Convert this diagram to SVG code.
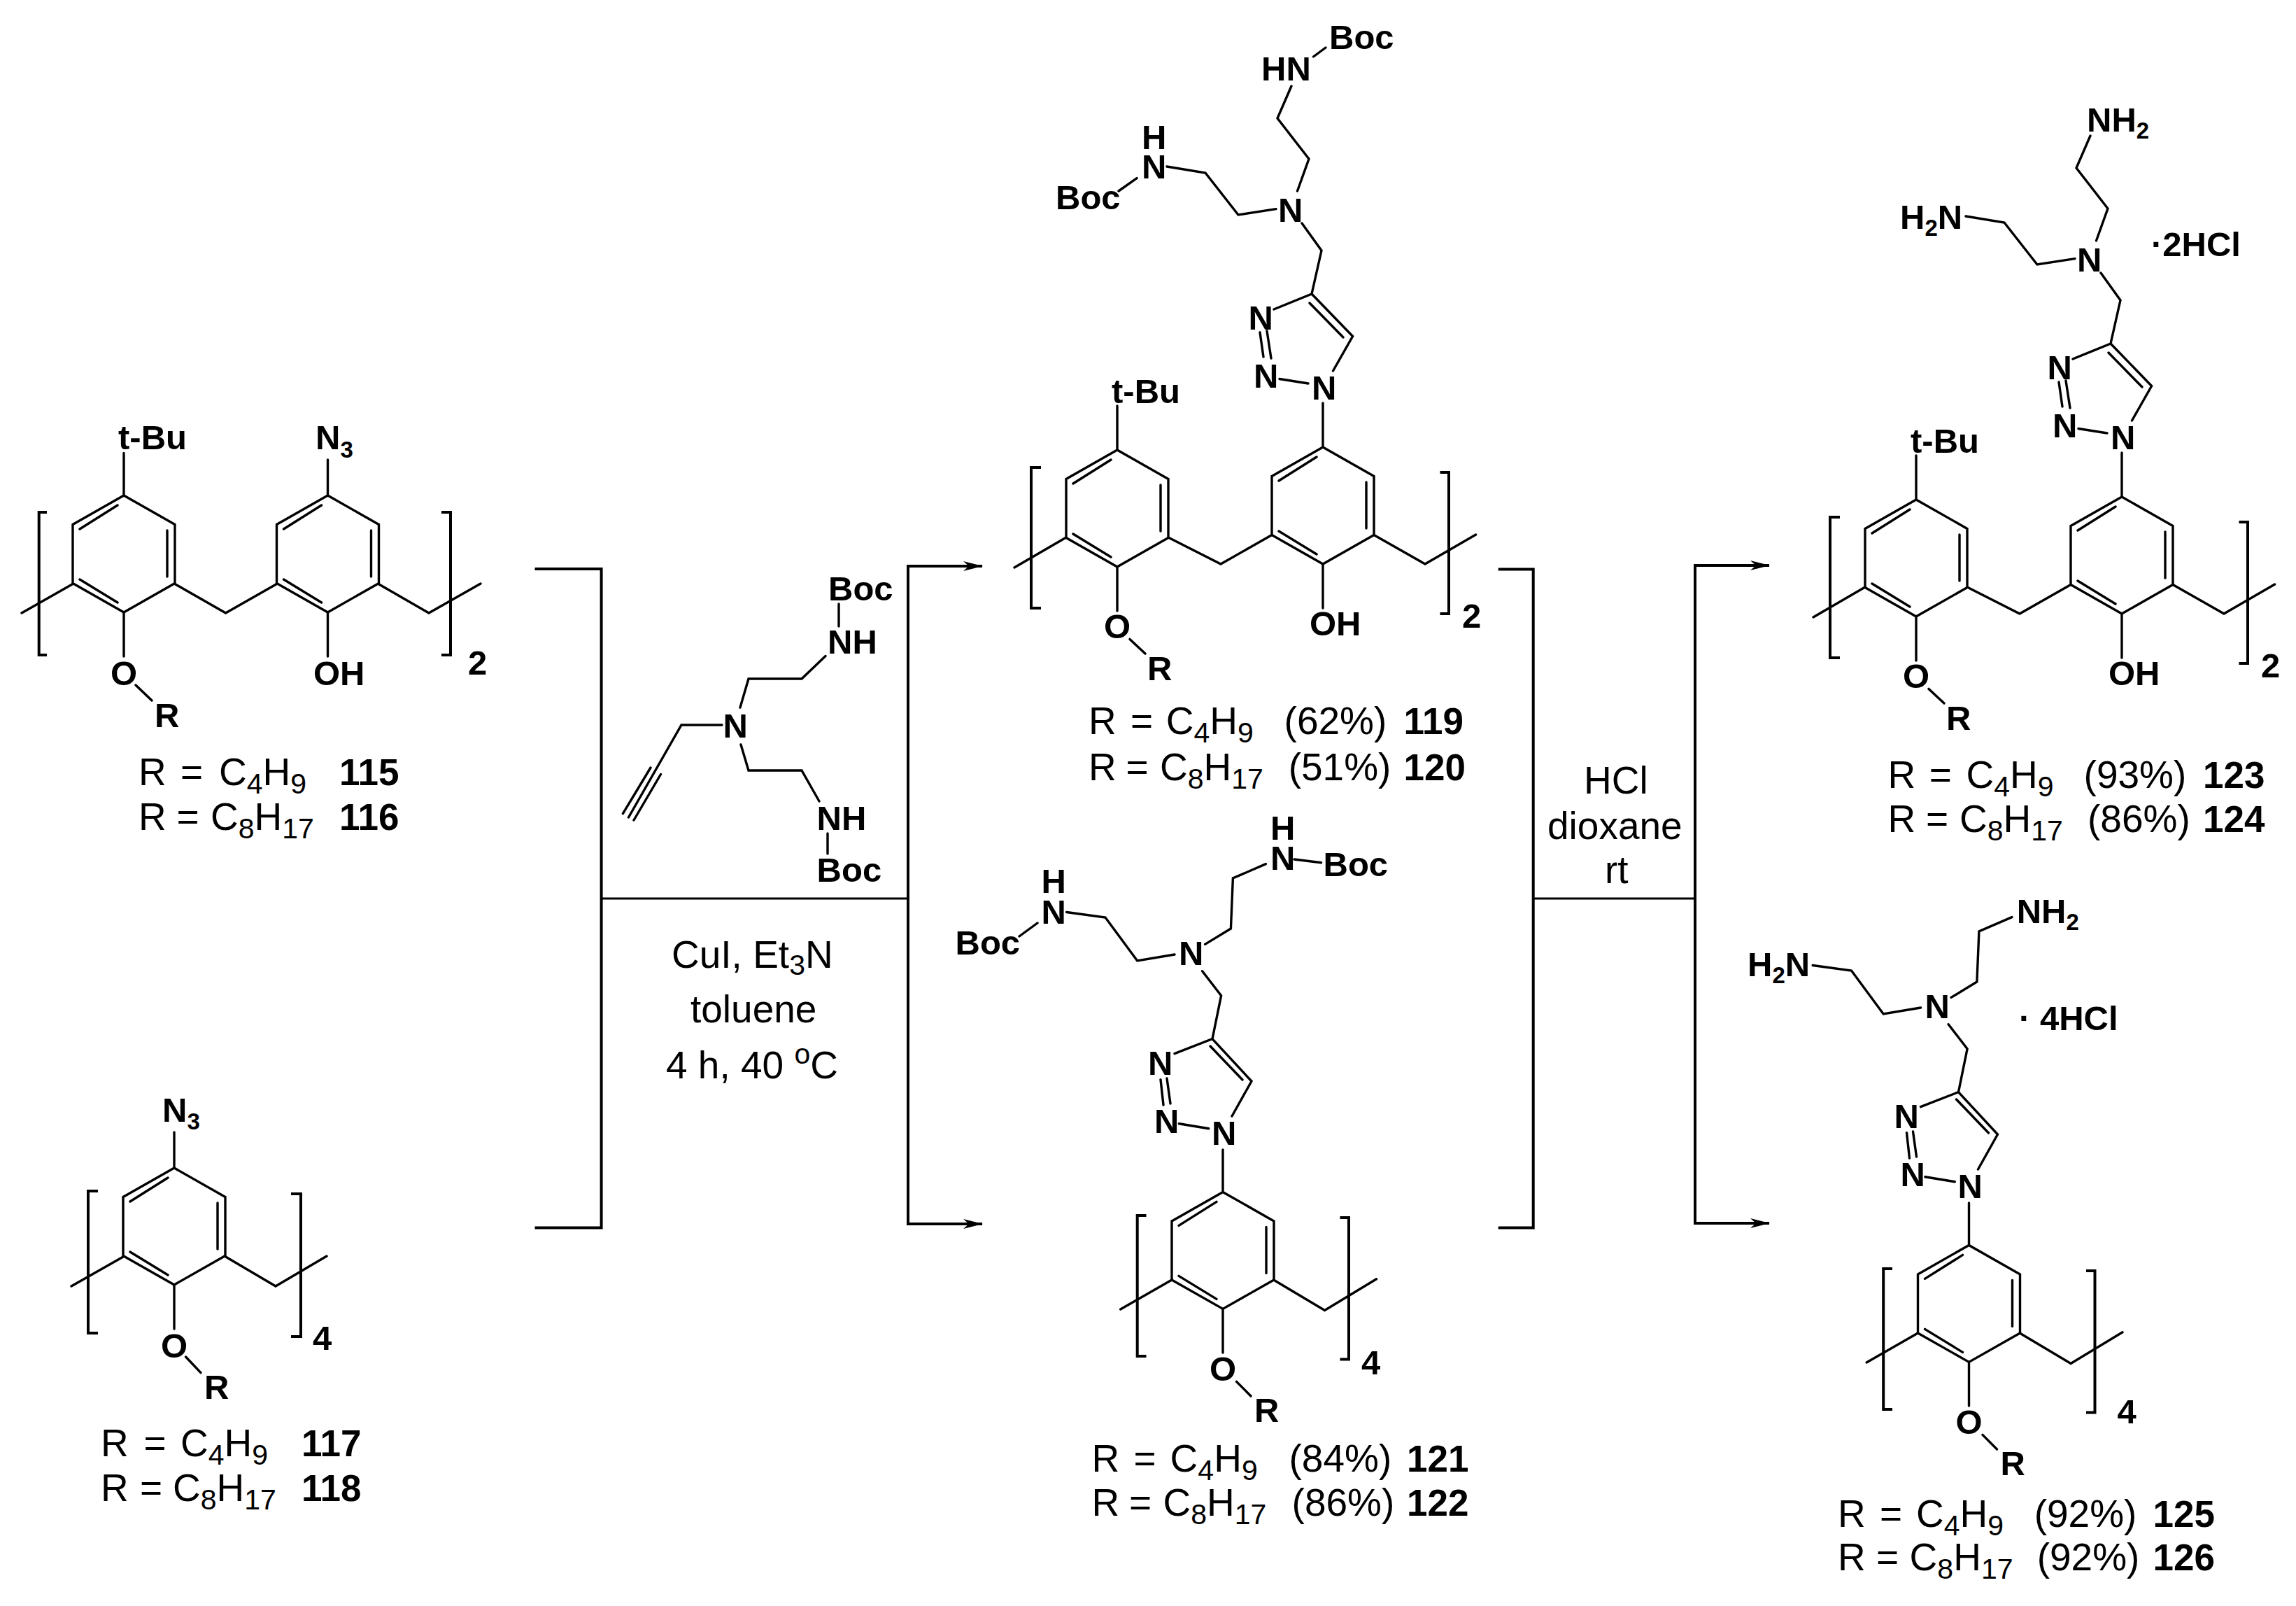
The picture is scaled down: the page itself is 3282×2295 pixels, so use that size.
<svg xmlns="http://www.w3.org/2000/svg" xmlns:xlink="http://www.w3.org/1999/xlink" width="3282" height="2295" viewBox="0 0 3282 2295">
<style>
text{font-family:"Liberation Sans",Arial,sans-serif;fill:#000}
.b{font-weight:700;font-size:49px}
.bs{font-size:33px;font-weight:700}
.r{font-size:55px}
.n{font-weight:700;font-size:53px}
.s{font-size:41px}
.bond{fill:none;stroke:#000;stroke-width:3.4;stroke-linecap:round;stroke-linejoin:miter}
.thin{fill:none;stroke:#000;stroke-width:3;stroke-linecap:butt}
.br{fill:none;stroke:#000;stroke-width:4;stroke-linejoin:miter}
</style>
<defs>
<path id="ring" class="bond" d="M0 0L-73 41.5V125.5L0 167L73 125.5V41.5ZM-63 48L-9 14M62 50V116M-63 120L-9 153"/>
<marker id="ah" markerUnits="userSpaceOnUse" markerWidth="30" markerHeight="16" refX="27" refY="8" orient="auto"><path d="M0 1L28 8L0 15L8 8Z" fill="#000"/></marker>
<g id="triazole2">
<path class="bond" d="M1889 358L1861 319M1889 358L1875 420L1821 442M1875 420L1933.6 480.5L1905.5 530M1829 541.5L1870 548M1801 475L1806 510M1811 473L1817 512M1872 433L1920 482"/>
<path class="bond" d="M1824 298.6L1770 307L1723 247L1668 238M1854.5 273L1871 227L1826 169L1846 123"/>
</g>
<g id="calix2">
<use xlink:href="#ring" href="#ring" x="1597" y="643"/>
<use xlink:href="#ring" href="#ring" x="1891" y="639"/>
<path class="bond" d="M1670 768L1745 806L1818 764.5M1964 764.5L2037 806L2109.6 764M1524 768L1450 811M1597 580V643M1891 576V639M1597 810V873M1891 806V869M1615 913.4L1637 934"/>
<path class="br" d="M1488 668H1474V869H1488M2058.5 675H2071V877H2058.5"/>
</g>
<g id="triazole4">
<path class="bond" d="M1745.6 1422.8L1718.6 1387.7M1745.6 1422.8L1733 1484.6L1679 1505.7M1733 1484.6L1789 1545L1761 1595M1685.4 1605.8L1727.8 1612.8M1659 1542.7L1663 1579M1668 1541L1673 1577M1730 1495L1776 1543"/>
<path class="bond" d="M1679 1364L1625.7 1373L1580 1311L1524.7 1303.5M1722.6 1349.4L1759.4 1327L1762.4 1255L1809.4 1234.6"/>
</g>
<g id="calix4">
<use xlink:href="#ring" href="#ring" x="1748" y="1703.4"/>
<path class="bond" d="M1820.6 1829L1893.6 1872.4L1967.5 1827.8M1675 1829L1601.7 1871M1748 1643V1703.4M1748 1871V1933M1767.5 1974.4L1788 1995"/>
<path class="br" d="M1638.5 1737H1625.7V1938H1638.5M1915.5 1740H1928V1942.5H1915.5"/>
</g>
</defs>
<rect width="3282" height="2295" fill="#fff"/>

<g id="connectors">
<path class="br" d="M764.5 813H859.6V1754.5H764.5"/>
<path class="thin" d="M859.6 1284H1298"/>
<path class="br" d="M1404 809H1298V1749H1404" marker-end="url(#ah)"/>
<path class="br" d="M1298 809H1404" marker-end="url(#ah)"/>
<path class="br" d="M2141.7 813.6H2191.7V1754.4H2141.7"/>
<path class="thin" d="M2191.7 1284H2423"/>
<path class="br" d="M2529 808H2423V1748H2529" marker-end="url(#ah)"/>
<path class="br" d="M2423 808H2529" marker-end="url(#ah)"/>
</g>

<g id="compound-115-116">
<use xlink:href="#ring" href="#ring" x="177" y="708"/>
<use xlink:href="#ring" href="#ring" x="468.5" y="708"/>
<path class="bond" d="M250 834.5L322.6 876L395.5 834.5M541 834.5L613 876L687 834M104 834.5L31 876M177 647.5V708M468.5 657V708M177 876V938M468.5 876V938M194 979L217 1001"/>
<path class="br" d="M67 732H55.7V936H67M631 732H644V936H631"/>
<text class="b" x="169" y="642">t-Bu</text>
<text class="b" x="451" y="642">N<tspan class="bs" dy="12">3</tspan></text>
<text class="b" x="158" y="979">O</text>
<text class="b" x="221" y="1038.6">R</text>
<text class="b" x="448" y="979">OH</text>
<text class="b" x="669" y="964">2</text>
<text class="r" y="1121.6"><tspan x="198">R </tspan><tspan x="258">= </tspan><tspan x="313">C<tspan class="s" dy="12">4</tspan><tspan dy="-12">H</tspan><tspan class="s" dy="12">9</tspan></tspan></text>
<text class="r" y="1186"><tspan x="198">R </tspan><tspan x="252.6">= </tspan><tspan x="301">C<tspan class="s" dy="12">8</tspan><tspan dy="-12">H</tspan><tspan class="s" dy="12">17</tspan></tspan></text>
<text class="n" x="485" y="1121.6">115</text>
<text class="n" x="485" y="1186">116</text>
</g>

<g id="compound-117-118">
<use xlink:href="#ring" href="#ring" x="249" y="1669"/>
<path class="bond" d="M321 1795L394 1838L467 1795M176 1796L102 1838M249 1618V1669M249 1836V1899M265.6 1939L287 1961.6"/>
<path class="br" d="M140 1702H126V1905H140M416 1706H430V1910H416"/>
<text class="b" x="232" y="1603">N<tspan class="bs" dy="11">3</tspan></text>
<text class="b" x="230" y="1940">O</text>
<text class="b" x="292" y="1999">R</text>
<text class="b" x="447" y="1929">4</text>
<text class="r" y="2081"><tspan x="144">R </tspan><tspan x="205.4">= </tspan><tspan x="258">C<tspan class="s" dy="12">4</tspan><tspan dy="-12">H</tspan><tspan class="s" dy="12">9</tspan></tspan></text>
<text class="r" y="2145"><tspan x="144">R </tspan><tspan x="200">= </tspan><tspan x="247">C<tspan class="s" dy="12">8</tspan><tspan dy="-12">H</tspan><tspan class="s" dy="12">17</tspan></tspan></text>
<text class="n" x="431" y="2081">117</text>
<text class="n" x="431" y="2145">118</text>
</g>

<g id="reagent">
<path class="bond" d="M1032 1036H974L898.5 1168M930 1097L890.4 1162.6M944.5 1106.5L906 1172M1058 1011L1070 970H1146L1180 937.5M1059 1064L1070 1101H1146L1171 1145M1199 895V863M1183 1191V1220"/>
<text class="b" x="1033.6" y="1054">N</text>
<text class="b" x="1183" y="934">NH</text>
<text class="b" x="1184" y="858">Boc</text>
<text class="b" x="1167.6" y="1185.6">NH</text>
<text class="b" x="1167.6" y="1260">Boc</text>
</g>

<g id="conditions-1">
<text class="r" x="960" y="1383">CuI, Et<tspan class="s" dy="10">3</tspan><tspan dy="-10">N</tspan></text>
<text class="r" x="987" y="1461">toluene</text>
<text class="r" x="952" y="1541">4 h, 40 <tspan class="s" dy="-21">o</tspan><tspan dy="21">C</tspan></text>
</g>

<g id="compound-119-120">
<use xlink:href="#calix2" href="#calix2"/>
<use xlink:href="#triazole2" href="#triazole2"/>
<path class="bond" d="M1625 254.6L1599 273M1877.5 81L1895 68"/>
<text class="b" x="1803" y="115">HN</text>
<text class="b" x="1900" y="70">Boc</text>
<text class="b"><tspan x="1632" y="212.8">H</tspan><tspan x="1632" y="254.6">N</tspan></text>
<text class="b" x="1509" y="298.6">Boc</text>
<text class="b" x="1827" y="317">N</text>
<text class="b" x="1784.6" y="471">N</text>
<text class="b" x="1792" y="554">N</text>
<text class="b" x="1875" y="571">N</text>
<text class="b" x="1589" y="576">t-Bu</text>
<text class="b" x="1578" y="912">O</text>
<text class="b" x="1872" y="907.5">OH</text>
<text class="b" x="1640" y="972">R</text>
<text class="b" x="2090" y="896.6">2</text>
<text class="r" y="1049"><tspan x="1556">R </tspan><tspan x="1616">= </tspan><tspan x="1666.7">C<tspan class="s" dy="12">4</tspan><tspan dy="-12">H</tspan><tspan class="s" dy="12">9</tspan></tspan></text>
<text class="r" x="1835.6" y="1049">(62%)</text>
<text class="n" x="2006.5" y="1049">119</text>
<text class="r" y="1115"><tspan x="1556">R </tspan><tspan x="1609.6">= </tspan><tspan x="1658">C<tspan class="s" dy="12">8</tspan><tspan dy="-12">H</tspan><tspan class="s" dy="12">17</tspan></tspan></text>
<text class="r" x="1841.7" y="1115">(51%)</text>
<text class="n" x="2006.5" y="1115">120</text>
</g>

<g id="compound-121-122">
<use xlink:href="#calix4" href="#calix4"/>
<use xlink:href="#triazole4" href="#triazole4"/>
<path class="bond" d="M1483 1319L1457 1338M1850 1228L1888.5 1232.7"/>
<text class="b" x="1685" y="1379.4">N</text>
<text class="b"><tspan x="1488.5" y="1276">H</tspan><tspan x="1488.5" y="1319.5">N</tspan></text>
<text class="b" x="1365.5" y="1364">Boc</text>
<text class="b"><tspan x="1816" y="1200">H</tspan><tspan x="1816" y="1243">N</tspan></text>
<text class="b" x="1891.5" y="1252">Boc</text>
<text class="b" x="1641" y="1535.7">N</text>
<text class="b" x="1650" y="1618.6">N</text>
<text class="b" x="1732" y="1636.4">N</text>
<text class="b" x="1729" y="1972.5">O</text>
<text class="b" x="1793" y="2032">R</text>
<text class="b" x="1946" y="1963.6">4</text>
<text class="r" y="2103"><tspan x="1560.4">R </tspan><tspan x="1620.6">= </tspan><tspan x="1672.6">C<tspan class="s" dy="12">4</tspan><tspan dy="-12">H</tspan><tspan class="s" dy="12">9</tspan></tspan></text>
<text class="r" x="1842.5" y="2103">(84%)</text>
<text class="n" x="2011" y="2103">121</text>
<text class="r" y="2165.8"><tspan x="1560.4">R </tspan><tspan x="1614">= </tspan><tspan x="1662.4">C<tspan class="s" dy="12">8</tspan><tspan dy="-12">H</tspan><tspan class="s" dy="12">17</tspan></tspan></text>
<text class="r" x="1846.6" y="2165.8">(86%)</text>
<text class="n" x="2011" y="2165.8">122</text>
</g>

<g id="conditions-2">
<text class="r" x="2264" y="1133.7">HCl</text>
<text class="r" x="2212" y="1198.6">dioxane</text>
<text class="r" x="2294" y="1262">rt</text>
</g>

<g id="compound-123-124">
<g transform="translate(1142 71)">
<use xlink:href="#calix2" href="#calix2"/>
<use xlink:href="#triazole2" href="#triazole2"/>
</g>
<text class="b" x="2983" y="188">NH<tspan class="bs" dy="10">2</tspan></text>
<text class="b" x="2716" y="327">H<tspan class="bs" dy="10">2</tspan><tspan dy="-10">N</tspan></text>
<text class="b" x="3075" y="365.6">·2HCl</text>
<text class="b" x="2969" y="388">N</text>
<text class="b" x="2926.6" y="542">N</text>
<text class="b" x="2934" y="625">N</text>
<text class="b" x="3017" y="642">N</text>
<text class="b" x="2731" y="647">t-Bu</text>
<text class="b" x="2720" y="983">O</text>
<text class="b" x="3014" y="978.5">OH</text>
<text class="b" x="2782" y="1043">R</text>
<text class="b" x="3232" y="967.6">2</text>
<text class="r" y="1125.6"><tspan x="2698.5">R </tspan><tspan x="2757.7">= </tspan><tspan x="2810.5">C<tspan class="s" dy="12">4</tspan><tspan dy="-12">H</tspan><tspan class="s" dy="12">9</tspan></tspan></text>
<text class="r" x="2978.6" y="1125.6">(93%)</text>
<text class="n" x="3149" y="1125.6">123</text>
<text class="r" y="1189"><tspan x="2698.5">R </tspan><tspan x="2753">= </tspan><tspan x="2801">C<tspan class="s" dy="12">8</tspan><tspan dy="-12">H</tspan><tspan class="s" dy="12">17</tspan></tspan></text>
<text class="r" x="2984" y="1189">(86%)</text>
<text class="n" x="3149" y="1189">124</text>
</g>

<g id="compound-125-126">
<g transform="translate(1066.5 76)">
<use xlink:href="#calix4" href="#calix4"/>
<use xlink:href="#triazole4" href="#triazole4"/>
</g>
<text class="b" x="2882.7" y="1319">NH<tspan class="bs" dy="10">2</tspan></text>
<text class="b" x="2498" y="1395">H<tspan class="bs" dy="10">2</tspan><tspan dy="-10">N</tspan></text>
<text class="b" x="2886" y="1472.4">· 4HCl</text>
<text class="b" x="2751.5" y="1455.4">N</text>
<text class="b" x="2707.5" y="1611.7">N</text>
<text class="b" x="2716.5" y="1694.6">N</text>
<text class="b" x="2798.5" y="1712.4">N</text>
<text class="b" x="2795.5" y="2048.5">O</text>
<text class="b" x="2859.5" y="2108">R</text>
<text class="b" x="3026.5" y="2033.6">4</text>
<text class="r" y="2181.6"><tspan x="2627">R </tspan><tspan x="2687">= </tspan><tspan x="2739">C<tspan class="s" dy="12">4</tspan><tspan dy="-12">H</tspan><tspan class="s" dy="12">9</tspan></tspan></text>
<text class="r" x="2907.7" y="2181.6">(92%)</text>
<text class="n" x="3077.5" y="2181.6">125</text>
<text class="r" y="2244"><tspan x="2627">R </tspan><tspan x="2682">= </tspan><tspan x="2729.6">C<tspan class="s" dy="12">8</tspan><tspan dy="-12">H</tspan><tspan class="s" dy="12">17</tspan></tspan></text>
<text class="r" x="2911.7" y="2244">(92%)</text>
<text class="n" x="3077.5" y="2244">126</text>
</g>
</svg>
